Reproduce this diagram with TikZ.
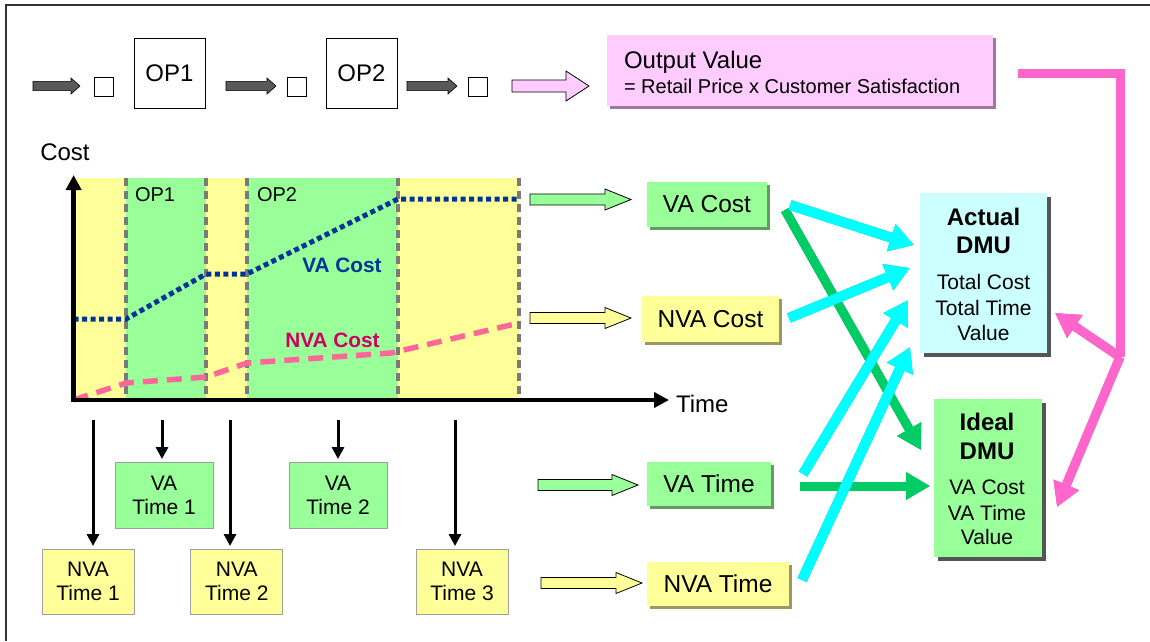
\documentclass[tikz,border=0pt]{standalone}
\usepackage{fontspec}
\setmainfont{Liberation Sans}
\usetikzlibrary{arrows.meta,shadows,calc}

\definecolor{vagreen}{HTML}{99FF99}
\definecolor{nvayellow}{HTML}{FFFF99}
\definecolor{dmucyan}{HTML}{CCFFFF}
\definecolor{valuepink}{HTML}{FFCCFF}
\definecolor{vablue}{HTML}{003399}
\definecolor{nvapink}{HTML}{FF6699}
\definecolor{nvatext}{HTML}{CC0066}
\definecolor{arrcyan}{HTML}{00FFFF}
\definecolor{arrcyandark}{HTML}{00B4C4}
\definecolor{arrgreen}{HTML}{00CC66}
\definecolor{arrgreendark}{HTML}{009944}
\definecolor{arrpink}{HTML}{FF66CC}
\definecolor{arrpinkdark}{HTML}{C0409A}
\definecolor{procgray}{HTML}{595959}
\definecolor{greenshadow}{HTML}{669966}
\definecolor{yellowshadow}{HTML}{999966}
\definecolor{pinkshadow}{HTML}{A077A0}
\definecolor{grayshadow}{HTML}{555555}
\definecolor{sepgray}{HTML}{7A7A7A}

\newcommand{\fbig}{\fontsize{24.5}{28}\selectfont}
\newcommand{\fop}{\fontsize{24}{28}\selectfont}
\newcommand{\fmid}{\fontsize{21}{24}\selectfont}
\newcommand{\fsub}{\fontsize{20}{24}\selectfont}

% horizontal block arrow: style, tail, tip, body half height, head half height, head length
\newcommand{\hblock}[6]{%
  \path let \p1=(#2), \p2=(#3) in [#1]
    (\x1,{\y1+#4}) -- ({\x2-#6},{\y1+#4}) -- ({\x2-#6},{\y1+#5}) -- (\x2,\y1)
    -- ({\x2-#6},{\y1-#5}) -- ({\x2-#6},{\y1-#4}) -- (\x1,{\y1-#4}) -- cycle;}

\tikzset{
  every node/.style={inner sep=0pt, outer sep=0pt},
  procbox/.style={draw=black, line width=0.8pt, fill=white, minimum width=71pt, minimum height=70pt, font=\fop},
  sqbox/.style={draw=black, line width=0.8pt, fill=white, minimum size=19pt},
  procarrow/.style={fill=procgray, draw=black, line width=0.6pt},
  hollow/.style={draw=black, line width=0.8pt},
  opsep/.style={draw=sepgray, line width=3.2pt, dash pattern=on 8pt off 5pt},
  vacurve/.style={draw=vablue, line width=5pt, dash pattern=on 5pt off 3.5pt},
  nvacurve/.style={draw=nvapink, line width=5.5pt, dash pattern=on 15pt off 9pt},
  axisline/.style={line width=4.5pt, -{Triangle[length=15pt,width=15pt]}},
  costbox/.style={font=\fbig, general shadow={fill=#1, shadow xshift=3pt, shadow yshift=-3pt}},
  timebox/.style={draw=gray!75, line width=1pt, align=center, font=\fmid},
  downarr/.style={line width=3pt, -{Triangle[length=12pt,width=12pt]}, shorten >=3pt},
  cyanarr/.style={draw=#1, line width=10pt, -{Triangle[length=24pt,width=27pt]}},
  greenarr/.style={draw=#1, line width=9pt, -{Triangle[length=24pt,width=26pt]}},
  pinkarr/.style={draw=#1, line width=9pt, -{Triangle[length=24pt,width=26pt]}},
  pinkline/.style={draw=#1, line width=9pt, line join=miter},
}

\begin{document}
\begin{tikzpicture}[x=1pt,y=-1pt]
\useasboundingbox (0,0) rectangle (1150,641);
\fill[white] (0,0) rectangle (1150,641);
% frame
\draw[line width=1.2pt, draw=black!80] (6,641) -- (6,5) -- (1150,5);

% ---------- process row ----------
\node[sqbox] (sq1) at (104,87) {};
\node[procbox] (op1) at (169.5,73) {OP1};
\node[sqbox] (sq2) at (296.5,87) {};
\node[procbox] (op2) at (361.5,73) {OP2};
\node[sqbox] (sq3) at (478,87) {};
\coordinate (pa1) at (33,86);  \coordinate (pb1) at (80,86);
\coordinate (pa2) at (226,86); \coordinate (pb2) at (276,86);
\coordinate (pa3) at (407,86); \coordinate (pb3) at (457,86);
\hblock{procarrow}{pa1}{pb1}{4.6pt}{8pt}{9pt}
\hblock{procarrow}{pa2}{pb2}{4.6pt}{8pt}{9pt}
\hblock{procarrow}{pa3}{pb3}{4.6pt}{8pt}{9pt}
\coordinate (va0) at (512,86); \coordinate (vb0) at (589,86);
\hblock{hollow, fill=valuepink}{va0}{vb0}{6pt}{15pt}{23pt}

\node[minimum width=386pt, minimum height=71pt, fill=valuepink,
      general shadow={fill=pinkshadow, shadow xshift=3pt, shadow yshift=-3pt}] (ov) at (800,70.5) {};
\node[anchor=base west, font=\fontsize{24}{28}\selectfont] (ovt) at (624,68.5) {Output Value};
\node[anchor=base west, font=\fsub] (ovf) at (624,93) {= Retail Price x Customer Satisfaction};

% ---------- cost / time chart ----------
\fill[nvayellow] (75,178) rectangle (519,400);
\fill[vagreen] (126,178) rectangle (206,400);
\fill[vagreen] (247,178) rectangle (398,400);
\foreach \xx in {126,206,247,398,519} \draw[opsep] (\xx,178) -- (\xx,400);
\node[anchor=west, font=\fsub] (op1l) at (135,195) {OP1};
\node[anchor=west, font=\fsub] (op2l) at (257,195) {OP2};

\draw[vacurve] (73.6,319) -- (126,319) -- (206,274) -- (247,274) -- (398,199) -- (519,199);
\draw[nvacurve] (73.6,400) -- (126,383) -- (206,377) -- (247,363) -- (391,353) -- (519,323);
\node[font=\fontsize{20.8}{24}\selectfont\bfseries, text=vablue] (vacl) at (342,265) {VA Cost};
\node[font=\fontsize{20.8}{24}\selectfont\bfseries, text=nvatext] (nvacl) at (332.5,340) {NVA Cost};

\coordinate (orig) at (73.6,400);
\coordinate (ytip) at (73.6,175);
\coordinate (xtip) at (669,400);
\draw[axisline] (orig) -- (ytip);
\draw[axisline] (71.4,400) -- (xtip);
\node[font=\fontsize{24}{28}\selectfont] (costl) at (65,152) {Cost};
\node[anchor=west, font=\fontsize{24}{28}\selectfont] (timel) at (676,404) {Time};

% ---------- time boxes below the chart ----------
\node[timebox, fill=vagreen, minimum width=98pt, minimum height=66pt] (vt1) at (164,495) {VA\\Time 1};
\node[timebox, fill=vagreen, minimum width=98pt, minimum height=66pt] (vt2) at (338,495) {VA\\Time 2};
\node[timebox, fill=nvayellow, minimum width=92pt, minimum height=65pt] (nt1) at (88,581.5) {NVA\\Time 1};
\node[timebox, fill=nvayellow, minimum width=92pt, minimum height=65pt] (nt2) at (236.75,581.5) {NVA\\Time 2};
\node[timebox, fill=nvayellow, minimum width=92pt, minimum height=65pt] (nt3) at (462,581.5) {NVA\\Time 3};
\coordinate (d1) at (93,420);
\coordinate (d2) at (162,420);
\coordinate (d3) at (230,420);
\coordinate (d4) at (338,420);
\coordinate (d5) at (455,420);
\draw[downarr] (d1) -- (d1 |- nt1.north);
\draw[downarr] (d2) -- (d2 |- vt1.north);
\draw[downarr] (d3) -- (d3 |- nt2.north);
\draw[downarr] (d4) -- (d4 |- vt2.north);
\draw[downarr] (d5) -- (d5 |- nt3.north);

% ---------- cost and time totals ----------
\node[costbox=greenshadow, fill=vagreen, minimum width=120pt, minimum height=45pt] (vac) at (707,204.5) {VA Cost};
\node[costbox=yellowshadow, fill=nvayellow, minimum width=137pt, minimum height=46pt] (nvac) at (710.5,319) {NVA Cost};
\node[costbox=greenshadow, fill=vagreen, minimum width=124pt, minimum height=44pt] (vat) at (709,484) {VA Time};
\node[costbox=yellowshadow, fill=nvayellow, minimum width=142pt, minimum height=44pt] (nvat) at (718,584) {NVA Time};

\coordinate (h1a) at (530,199.5); \coordinate (h1b) at (631,199.5);
\coordinate (h2a) at (530,318);   \coordinate (h2b) at (631,318);
\coordinate (h3a) at (538,485);   \coordinate (h3b) at (638,485);
\coordinate (h4a) at (541,583);   \coordinate (h4b) at (642,583);
\hblock{hollow, fill=vagreen}{h1a}{h1b}{5.5pt}{10.5pt}{26pt}
\hblock{hollow, fill=nvayellow}{h2a}{h2b}{5.5pt}{10.5pt}{26pt}
\hblock{hollow, fill=vagreen}{h3a}{h3b}{5.5pt}{10.5pt}{26pt}
\hblock{hollow, fill=nvayellow}{h4a}{h4b}{5.5pt}{10.5pt}{26pt}

% ---------- DMU boxes ----------
\node[general shadow={fill=grayshadow, shadow xshift=4pt, shadow yshift=-4pt}, fill=dmucyan,
      minimum width=127pt, minimum height=160pt] (act) at (983.5,273) {};
\node[font=\fontsize{24}{28}\selectfont\bfseries] (actl1) at (983.5,217) {Actual};
\node[font=\fontsize{24}{28}\selectfont\bfseries] (actl2) at (983.5,245) {DMU};
\node[font=\fmid] (acts1) at (983.5,282) {Total Cost};
\node[font=\fmid] (acts2) at (983.5,308) {Total Time};
\node[font=\fmid] (acts3) at (983.5,333) {Value};

\node[general shadow={fill=grayshadow, shadow xshift=4pt, shadow yshift=-4pt}, fill=vagreen,
      minimum width=108pt, minimum height=158pt] (ide) at (988,478) {};
\node[font=\fontsize{24}{28}\selectfont\bfseries] (idel1) at (987,422) {Ideal};
\node[font=\fontsize{24}{28}\selectfont\bfseries] (idel2) at (987,451) {DMU};
\node[font=\fmid] (ides1) at (987,487) {VA Cost};
\node[font=\fmid] (ides2) at (987,513) {VA Time};
\node[font=\fmid] (ides3) at (987,537) {Value};

% ---------- flows into the DMU boxes ----------
\coordinate (g1s) at (785,210); \coordinate (g1t) at (921,450);
\coordinate (g2s) at (800,486); \coordinate (g2t) at (930,486);
\foreach \s/\t in {g1s/g1t, g2s/g2t} {
  \draw[greenarr=arrgreendark, shift={(1.5,1.5)}] (\s) -- (\t);
  \draw[greenarr=arrgreen] (\s) -- (\t);
}
\coordinate (c1s) at (790,205); \coordinate (c1t) at (914,245);
\coordinate (c2s) at (789,318); \coordinate (c2t) at (910,268);
\coordinate (c3s) at (803,474); \coordinate (c3t) at (908,300);
\coordinate (c4s) at (802,580); \coordinate (c4t) at (910,347);
\foreach \s/\t in {c1s/c1t, c2s/c2t, c3s/c3t, c4s/c4t} {
  \draw[cyanarr=arrcyandark, shift={(1.5,1.5)}] (\s) -- (\t);
  \draw[cyanarr=arrcyan] (\s) -- (\t);
}

% ---------- value feedback ----------
\coordinate (ps) at (1018,73);
\coordinate (pj) at (1120,357);
\coordinate (pta) at ($(act.south east)+(8,-40)$);
\coordinate (pti) at (1057,507);
\draw[pinkline=arrpinkdark, shift={(1.5,1.5)}] (ps) -| (pj);
\draw[pinkline=arrpink] (ps) -| (pj);
\draw[pinkarr=arrpinkdark, shift={(1.5,1.5)}] (pj) -- (pta);
\draw[pinkarr=arrpink] (pj) -- (pta);
\draw[pinkarr=arrpinkdark, shift={(1.5,1.5)}] (pj) -- (pti);
\draw[pinkarr=arrpink] (pj) -- (pti);
\end{tikzpicture}
\end{document}
